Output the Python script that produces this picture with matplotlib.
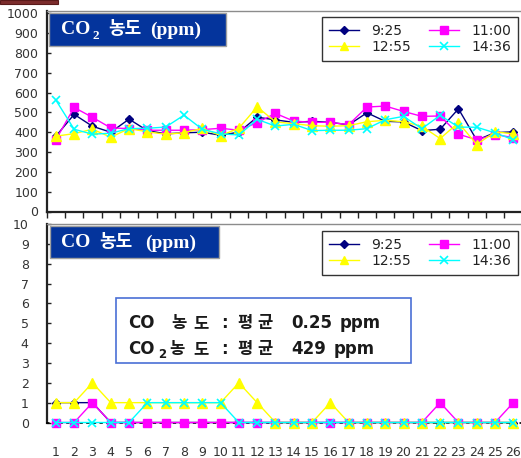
import matplotlib
matplotlib.use("Agg")
import matplotlib.pyplot as plt
from matplotlib.patches import Rectangle

W, H = 521, 458

days = list(range(1, 27))
times = ["9:25", "11:00", "12:55", "14:36"]

# CO2 (ppm) per day, one list per measuring time
co2_0925 = [380, 490, 430, 400, 466, 408, 392, 397, 400, 385, 400, 476, 462,
            450, 455, 450, 437, 498, 455, 452, 408, 415, 518, 360, 398, 402]
co2_1100 = [362, 525, 475, 422, 418, 410, 410, 410, 413, 420, 410, 448, 495,
            456, 450, 450, 438, 527, 532, 505, 480, 482, 390, 362, 388, 373]
co2_1255 = [380, 393, 415, 375, 418, 402, 390, 397, 420, 383, 420, 528, 452,
            443, 433, 430, 433, 453, 460, 453, 430, 368, 448, 338, 402, 392]
co2_1436 = [562, 415, 390, 395, 418, 420, 426, 486, 415, 392, 386, 465, 431,
            440, 408, 410, 410, 418, 463, 480, 418, 485, 426, 425, 397, 362]

# CO (ppm)
co_0925 = [1, 1, 1, 0, 0, 0, 0, 0, 0, 0, 0, 0, 0,
           0, 0, 0, 0, 0, 0, 0, 0, 0, 0, 0, 0, 0]
co_1100 = [0, 0, 1, 0, 0, 0, 0, 0, 0, 0, 0, 0, 0,
           0, 0, 0, 0, 0, 0, 0, 0, 1, 0, 0, 0, 1]
co_1255 = [1, 1, 2, 1, 1, 1, 1, 1, 1, 1, 2, 1, 0,
           0, 0, 1, 0, 0, 0, 0, 0, 0, 0, 0, 0, 0]
co_1436 = [0, 0, 0, 0, 0, 1, 1, 1, 1, 1, 0, 0, 0,
           0, 0, 0, 0, 0, 0, 0, 0, 0, 0, 0, 0, 0]

co_avg = "0.25"
co2_avg = "429"

styles = [
    dict(color="#000080", marker="D", markersize=4.5),
    dict(color="#ff00ff", marker="s", markersize=6),
    dict(color="#ffff00", marker="^", markersize=7.5),
    dict(color="#00ffff", marker="x", markersize=6, markeredgewidth=1.2),
]

KO = "Noto Sans CJK KR"
TICK = "#333333"


def px_axes(left, top, right, bottom):
    return fig.add_axes([left / W, 1 - bottom / H, (right - left) / W, (bottom - top) / H])


def ftext(x, y, s, **kw):
    # x, y in image pixels measured from top-left
    return fig.text(x / W, 1 - y / H, s, **kw)


def style_axes(ax):
    ax.set_xlim(0.5, 26.5)
    ax.spines["right"].set_visible(False)
    ax.spines["top"].set_color("#8c8c8c")
    ax.spines["top"].set_linewidth(1.0)
    ax.spines["left"].set_color("#222222")
    ax.spines["left"].set_linewidth(1.6)
    ax.tick_params(axis="y", direction="in", length=3, width=1,
                   colors="#222222", labelcolor=TICK, labelsize=9)


def title_box(x0, y0, x1, y1, pieces):
    fig.patches.append(Rectangle((x0 / W, 1 - y1 / H), (x1 - x0) / W, (y1 - y0) / H,
                                 transform=fig.transFigure, facecolor="#04349c",
                                 edgecolor="#a0a0a0", linewidth=1, zorder=5))
    for s, x, y, size in pieces:
        ftext(x, y, s, color="white", fontsize=size, fontweight="bold",
              family=["Liberation Serif", KO], va="center", ha="left", zorder=6)


def add_legend(ax, lines, top):
    # row-wise order: 9:25, 11:00 / 12:55, 14:36
    order = [0, 2, 1, 3]
    hs = [lines[i] for i in order]
    leg = ax.legend(hs, [h.get_label() for h in hs],
                    loc="upper right", bbox_to_anchor=(518 / W, 1 - top / H),
                    bbox_transform=fig.transFigure, ncol=2, fontsize=10,
                    frameon=True, fancybox=False, borderaxespad=0, markerscale=0.85,
                    handlelength=2.2, handletextpad=0.85, columnspacing=1.3,
                    labelspacing=0.15, borderpad=0.5)
    leg.get_frame().set_edgecolor("black")
    leg.get_frame().set_linewidth(1.0)
    for t in leg.get_texts():
        t.set_color("#222222")
    leg.set_zorder(10)


fig = plt.figure(figsize=(W / 100, H / 100), dpi=100)
fig.patch.set_facecolor("white")

# small dark red tab at the top-left corner
fig.patches.append(Rectangle((0, 1 - 4 / H), 58 / W, 4 / H, transform=fig.transFigure,
                             facecolor="#7c2c2c", edgecolor="#5a1a1a", linewidth=0.8))

# ---- CO2 chart ----
ax1 = px_axes(46.7, 11, 522.5, 211.5)
style_axes(ax1)
ax1.set_ylim(0, 1011.6)
ax1.set_yticks(range(0, 1001, 100))
ax1.spines["bottom"].set_color("#222222")
ax1.spines["bottom"].set_linewidth(1.6)
ax1.set_xticks([d + 0.5 for d in range(0, 27)])
ax1.set_xticklabels([])
ax1.tick_params(axis="x", direction="out", length=4, width=1, colors="#222222")
ax1.tick_params(axis="y", pad=6)

lines1 = []
for vals, lab, st in zip([co2_0925, co2_1100, co2_1255, co2_1436], times, styles):
    lines1 += ax1.plot(days, vals, label=lab, linewidth=1.0, clip_on=False, **st)
add_legend(ax1, lines1, 17)

title_box(48.5, 13, 226, 45.5, [("CO", 61, 30, 14), ("2", 92.5, 36, 9.5),
                                ("농도", 108, 30, 13), ("(ppm)", 150, 30, 14)])

# ---- CO chart ----
ax2 = px_axes(46.7, 224, 522.5, 422.5)
style_axes(ax2)
ax2.set_ylim(0, 10)
ax2.set_yticks(range(0, 11))
ax2.spines["bottom"].set_color("black")
ax2.spines["bottom"].set_linewidth(1.2)
ax2.spines["bottom"].set_linestyle((0, (1, 3)))
ax2.set_xticks(days)
ax2.set_xticklabels([str(d) for d in days])
ax2.tick_params(axis="x", length=0, pad=17, labelsize=9, labelcolor=TICK)
ax2.tick_params(axis="y", pad=13)

lines2 = []
for vals, lab, st in zip([co_0925, co_1100, co_1255, co_1436], times, styles):
    lines2 += ax2.plot(days, vals, label=lab, linewidth=1.0, clip_on=False, zorder=3, **st)
add_legend(ax2, lines2, 231)

title_box(49.5, 226, 219, 258, [("CO", 61, 243, 14), ("농도", 99, 243, 13),
                                ("(ppm)", 145, 243, 14)])

# summary box with the averages
fig.patches.append(Rectangle((116 / W, 1 - 363 / H), 295 / W, 65 / H,
                             transform=fig.transFigure, facecolor="white",
                             edgecolor="#4a6fd6", linewidth=1.2, zorder=7))
bold = dict(fontsize=12, fontweight="bold", color="#1a1a1a",
            family=["DejaVu Sans", KO], va="center", ha="left", zorder=8)
line1 = [("CO", 128), ("농", 171), ("도", 193), (":", 221), ("평", 237), ("균", 257),
         (co_avg, 291), ("ppm", 340)]
for s, x in line1:
    ftext(x, 323, s, **bold)
line2 = [("CO", 128), ("농", 169), ("도", 193), (":", 221), ("평", 237), ("균", 257),
         (co2_avg, 291), ("ppm", 334)]
for s, x in line2:
    ftext(x, 349, s, **bold)
ftext(158.5, 355, "2", **dict(bold, fontsize=8.5))

fig.savefig("out.png", dpi=100)
